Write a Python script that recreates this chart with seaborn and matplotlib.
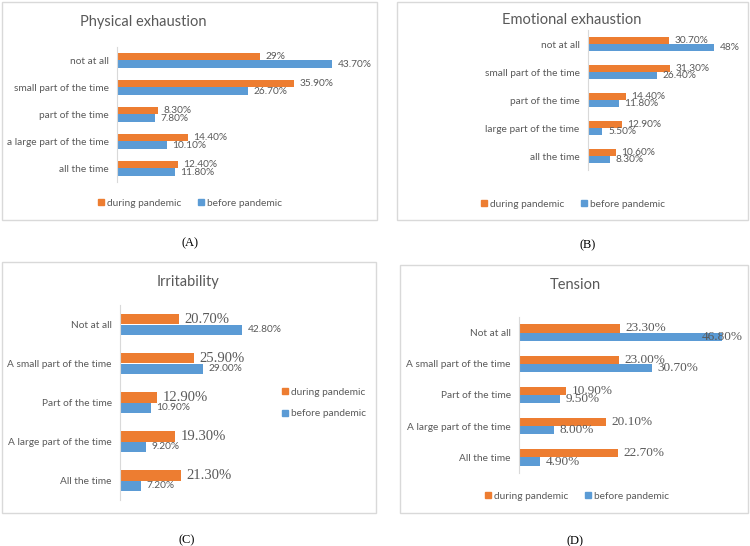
import numpy as np
import matplotlib.pyplot as plt
import seaborn as sns
import pandas as pd
from matplotlib.patches import Rectangle
from matplotlib.lines import Line2D

# dados
cat_ab = ['not at all', 'small part of the time', 'part of the time',
          'a large part of the time', 'all the time']
cat_b = ['not at all', 'small part of the time', 'part of the time',
         'large part of the time', 'all the time']
cat_cd = ['Not at all', 'A small part of the time', 'Part of the time',
          'A large part of the time', 'All the time']

fisica_durante = [29.0, 35.9, 8.3, 14.4, 12.4]
fisica_antes = [43.7, 26.7, 7.8, 10.1, 11.8]
fisica_rot_durante = ['29%', '35.90%', '8.30%', '14.40%', '12.40%']
fisica_rot_antes = ['43.70%', '26.70%', '7.80%', '10.10%', '11.80%']

emocional_durante = [30.7, 31.3, 14.4, 12.9, 10.6]
emocional_antes = [48.0, 26.4, 11.8, 5.5, 8.3]
emocional_rot_durante = ['30.70%', '31.30%', '14.40%', '12.90%', '10.60%']
emocional_rot_antes = ['48%', '26.40%', '11.80%', '5.50%', '8.30%']

irritab_durante = [20.7, 25.9, 12.9, 19.3, 21.3]
irritab_antes = [42.8, 29.0, 10.9, 9.2, 7.2]

tensao_durante = [23.3, 23.0, 10.9, 20.1, 22.7]
tensao_antes = [46.8, 30.7, 9.5, 8.0, 4.9]

GRUPOS = ['during pandemic', 'before pandemic']
LARANJA = '#ED7D31'
AZUL = '#5B9BD5'
CINZA = '#595959'
BORDA = '#D9D9D9'

W, H = 750, 546

sns.set_style('white')
plt.rcParams['font.family'] = ['Lato', 'DejaVu Sans']

fig = plt.figure(figsize=(W / 100, H / 100), dpi=100)


def moldura(x0, y0, x1, y1):
    fig.add_artist(Rectangle((x0 / W, 1 - y1 / H), (x1 - x0) / W, (y1 - y0) / H,
                             transform=fig.transFigure, fill=False,
                             edgecolor=BORDA, lw=1))


def painel(esq, topo, base, escala, categorias, durante, antes,
           rot_durante, rot_antes, largura, fonte_d=None, fonte_a=None,
           limite=None):
    xmax = 50
    ax = fig.add_axes([esq / W, 1 - base / H, xmax * escala / W, (base - topo) / H])
    df = pd.DataFrame({
        'categoria': categorias * 2,
        'valor': list(durante) + list(antes),
        'periodo': [GRUPOS[0]] * len(categorias) + [GRUPOS[1]] * len(categorias),
    })
    sns.barplot(data=df, x='valor', y='categoria', hue='periodo', hue_order=GRUPOS,
                palette=[LARANJA, AZUL], orient='h', width=largura, saturation=1,
                linewidth=0, legend=False, ax=ax, errorbar=None)
    ax.set_xlim(0, xmax)
    ax.set_ylim(len(categorias) - 0.5, -0.5)
    ax.set_xlabel('')
    ax.set_ylabel('')
    ax.set_xticks([])
    for s in ['top', 'right', 'bottom']:
        ax.spines[s].set_visible(False)
    ax.spines['left'].set_color(BORDA)
    ax.set_yticks(np.arange(-0.5, len(categorias)), minor=True)
    ax.tick_params(axis='y', which='major', length=0, pad=6, labelsize=7.3,
                   labelcolor=CINZA)
    ax.tick_params(axis='y', which='minor', length=4, color=BORDA, direction='out')
    ax.patch.set_alpha(0)

    fd = fonte_d or dict(fontsize=7.3)
    fa = fonte_a or dict(fontsize=7.3)
    ax.bar_label(ax.containers[0], labels=rot_durante, padding=4, color=CINZA,
                 clip_on=False, **fd)
    rotulos = ax.bar_label(ax.containers[1], labels=rot_antes, padding=4,
                           color=CINZA, clip_on=False, **fa)
    # barra longa demais: o Excel centra o rótulo no fim da barra
    if limite is not None:
        for v, r in zip(antes, rotulos):
            if v > limite:
                r.xyann = (0, 0)
                r.set_ha('center')
    return ax


def legenda(x, y, vertical=False):
    alcas = [Line2D([], [], marker='s', ls='none', color=c, markersize=5)
             for c in [LARANJA, AZUL]]
    fig.legend(alcas, GRUPOS, loc='center left' if vertical else 'center',
               bbox_to_anchor=(x / W, 1 - y / H), ncol=1 if vertical else 2,
               frameon=False, fontsize=7.3, labelcolor=CINZA, handlelength=0.6,
               handletextpad=0.3, columnspacing=1.6, labelspacing=1.2)


def titulo(x, y, texto):
    fig.text(x / W, 1 - y / H, texto, ha='center', va='center', fontsize=10.5,
             color=CINZA)


def legenda_painel(x, y, texto):
    fig.text(x / W, 1 - y / H, texto, ha='center', va='center', fontsize=9,
             family='Liberation Serif', color='black')


serif_grande = dict(fontsize=10.5, family='Liberation Serif')
serif_medio = dict(fontsize=9.5, family='Liberation Serif')

# (A)
moldura(2, 2, 377, 220)
painel(117, 47, 182, 4.92, cat_ab, fisica_durante, fisica_antes,
       fisica_rot_durante, fisica_rot_antes, 0.52)
titulo(143, 22, 'Physical exhaustion')
legenda(190, 203)
legenda_painel(190, 243, '(A)')

# (B)
moldura(397, 2, 748, 220)
painel(588, 30, 170, 2.63, cat_b, emocional_durante, emocional_antes,
       emocional_rot_durante, emocional_rot_antes, 0.52)
titulo(572, 20, 'Emotional exhaustion')
legenda(573, 204)
legenda_painel(588, 245, '(B)')

# (C)
moldura(2, 262, 376, 513)
painel(120, 305, 500, 2.85, cat_cd, irritab_durante, irritab_antes,
       [f'{v:.2f}%' for v in irritab_durante], [f'{v:.2f}%' for v in irritab_antes],
       0.52, fonte_d=serif_grande)
titulo(188, 282, 'Irritability')
legenda(273, 403, vertical=True)
legenda_painel(187, 540, '(C)')

# (D)
moldura(400, 265, 748, 513)
painel(519, 317, 473, 4.34, cat_cd, tensao_durante, tensao_antes,
       [f'{v:.2f}%' for v in tensao_durante], [f'{v:.2f}%' for v in tensao_antes],
       0.53, fonte_d=serif_medio, fonte_a=serif_medio, limite=40)
titulo(575, 285, 'Tension')
legenda(577, 496)
legenda_painel(575, 541, '(D)')

fig.savefig('out.png', dpi=100)
